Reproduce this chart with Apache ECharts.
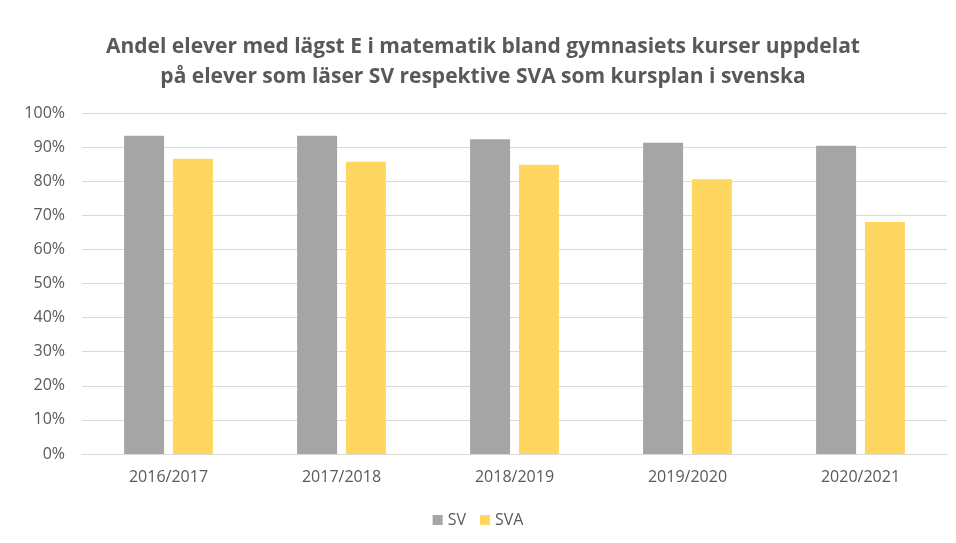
<!DOCTYPE html>
<html>
<head>
<meta charset="utf-8">
<script src="https://cdn.jsdelivr.net/npm/echarts@6/dist/echarts.min.js"></script>
<style>
  html, body { margin: 0; padding: 0; background: #fff; }
  #main { width: 956px; height: 543px; }
</style>
</head>
<body>
<div id="main"></div>
<script>
// läsår
var years = ['2016/2017', '2017/2018', '2018/2019', '2019/2020', '2020/2021'];
// andel i procent
var sv = [93.3, 93.3, 92.3, 91.3, 90.4];
var sva = [86.6, 85.7, 84.8, 80.6, 68.0];

var myChart = echarts.init(document.getElementById('main'));
myChart.setOption({
    backgroundColor: '#fff',
    title: {
        text: 'Andel elever med lägst E i matematik bland gymnasiets kurser uppdelat\npå elever som läser SV respektive SVA som kursplan i svenska',
        left: 478,
        textAlign: 'center',
        top: 27,
        textStyle: {
            fontFamily: 'Open Sans',
            fontWeight: 'bold',
            fontSize: 21,
            lineHeight: 30,
            color: '#595959'
        }
    },
    legend: {
        bottom: 10,
        left: 'center',
        itemWidth: 10,
        itemHeight: 10,
        itemGap: 14,
        icon: 'rect',
        textStyle: { fontFamily: 'Open Sans', fontSize: 16, color: '#595959' },
        data: ['SV', 'SVA']
    },
    grid: {
        left: 82,
        right: 9,
        top: 113,
        bottom: 89,
        containLabel: false
    },
    xAxis: {
        type: 'category',
        data: years,
        axisLine: { lineStyle: { color: '#d9d9d9' } },
        axisTick: { show: false },
        axisLabel: { fontFamily: 'Open Sans', fontSize: 16, color: '#595959', margin: 15 }
    },
    yAxis: {
        type: 'value',
        min: 0,
        max: 100,
        interval: 10,
        axisLine: { show: false },
        axisTick: { show: false },
        splitLine: { lineStyle: { color: '#d9d9d9', width: 1 } },
        axisLabel: {
            formatter: '{value}%',
            fontFamily: 'Open Sans',
            fontSize: 16,
            color: '#595959',
            margin: 17
        }
    },
    series: [{
        name: 'SV',
        type: 'bar',
        data: sv,
        barWidth: 40,
        barGap: '22%',
        itemStyle: { color: '#a5a5a5' }
    }, {
        name: 'SVA',
        type: 'bar',
        data: sva,
        barWidth: 40,
        itemStyle: { color: '#ffd65f' }
    }]
});
</script>
</body>
</html>
